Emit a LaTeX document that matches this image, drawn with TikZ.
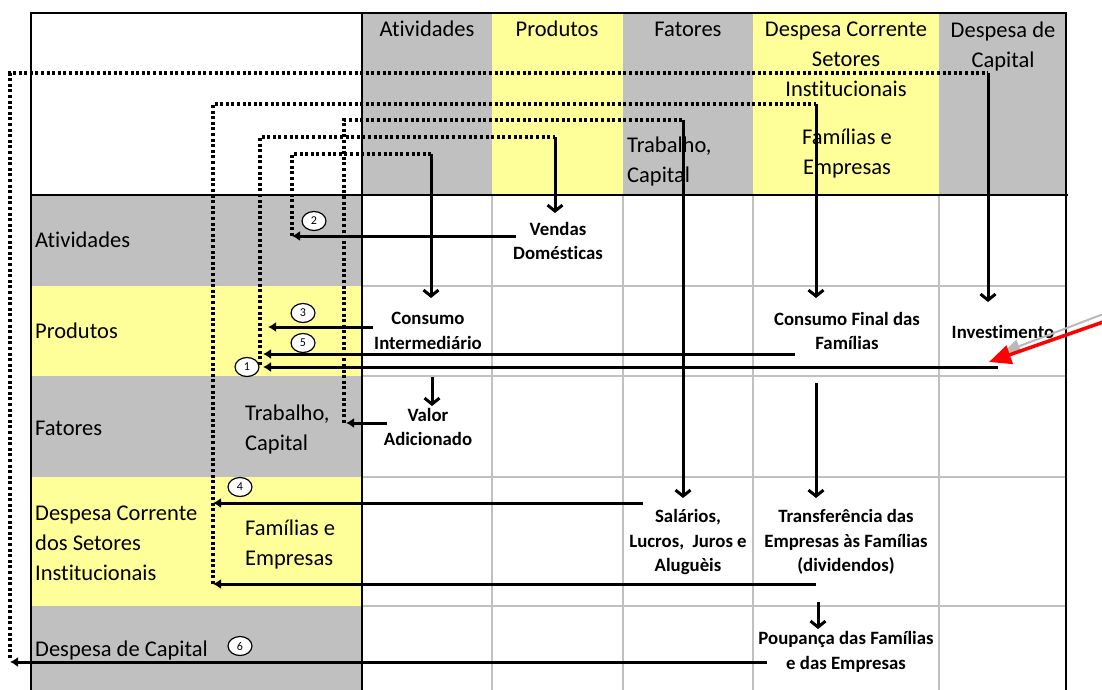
\documentclass[tikz,border=0pt]{standalone}
\usepackage{fontspec}
\setmainfont{Carlito}[Ligatures = {TeX, NoCommon}]
\usetikzlibrary{arrows.meta, shapes.geometric}

\definecolor{cinza}{HTML}{C0C0C0}
\definecolor{amarelo}{HTML}{FFFF99}
\definecolor{vermelho}{HTML}{FF0000}

\tikzset{
	rotulo/.style = {font = \fontsize{22.5}{30}\selectfont, inner sep = 0pt},
	valor/.style = {font = \fontsize{18.8}{24.5}\selectfont\bfseries, align = center, inner sep = 0pt},
	numero/.style = {draw, ellipse, fill = white, line width = 1.2pt, minimum width = 24pt, minimum height = 19pt, inner sep = 0pt, font = \fontsize{12}{12}\selectfont},
	fluxo/.style = {line width = 3pt, -{Latex[length = 8pt, width = 10pt]}},
	desce/.style = {line width = 3pt, -{Straight Barb[length = 6pt, width = 15pt]}},
	ligacao/.style = {line width = 3.2pt, dash pattern = on 3pt off 2.6pt},
	grade/.style = {cinza, line width = 2pt},
	borda/.style = {black, line width = 2.4pt}
}

\begin{document}
\begin{tikzpicture}[x = 1pt, y = -1pt]
		\useasboundingbox (0, 0) rectangle (1102, 690);
		
		\foreach \xa/\xb/\cor in {362/492/cinza, 492/623/amarelo, 623/753/cinza, 753/939/amarelo, 939/1066/cinza}
		\fill[\cor] (\xa, 13) rectangle (\xb, 195);
		\foreach \ya/\yb/\cor in {195/286/cinza, 286/376/amarelo, 376/477/cinza, 477/606/amarelo, 606/690/cinza}
		\fill[\cor] (31, \ya) rectangle (362, \yb);
		
		\foreach \x in {492, 623, 753, 939}
		\draw[grade] (\x, 195) -- (\x, 690);
		\foreach \y in {286, 376, 477, 606}
		\draw[grade] (362, \y) -- (1066, \y);
		
		\draw[borda] (31, 690) -- (31, 13) -- (1066, 13) -- (1066, 690);
		\draw[borda] (362, 13) -- (362, 690);
		\draw[borda] (31, 195) -- (1068, 195);
		
		\node[rotulo] (h-ativ) at (427, 29) {Atividades};
		\node[rotulo] (h-prod) at (557, 29) {Produtos};
		\node[rotulo] (h-fat) at (688, 29) {Fatores};
		\node[rotulo, align = center] (h-dc) at (846, 59) {Despesa Corrente\\Setores\\Institucionais};
		\node[rotulo, align = center] (h-dk) at (1003, 47) {Despesa de\\Capital};
		\node[rotulo, align = left, anchor = west] (h-tc) at (627, 162) {Trabalho,\\Capital};
		\node[rotulo, align = center] (h-fe) at (847, 154) {Famílias e\\Empresas};
		
		\node[rotulo, anchor = west] (l-ativ) at (35, 240) {Atividades};
		\node[rotulo, anchor = west] (l-prod) at (35, 331) {Produtos};
		\node[rotulo, anchor = west] (l-fat) at (35, 428) {Fatores};
		\node[rotulo, anchor = west, align = left] (l-dc) at (35, 543) {Despesa Corrente\\dos Setores\\Institucionais};
		\node[rotulo, anchor = west] (l-dk) at (35, 650) {Despesa de Capital};
		\node[rotulo, anchor = west, align = left] (l-tc) at (245, 429) {Trabalho,\\Capital};
		\node[rotulo, anchor = west, align = left] (l-fe) at (245, 544) {Famílias e\\Empresas};
		
		\node[valor] (vd) at (558, 241) {Vendas\\Domésticas};
		\node[valor] (ci) at (428, 331) {Consumo\\Intermediário};
		\node[valor] (cf) at (847, 331) {Consumo Final das\\Famílias};
		\node[valor] (inv) at (1003, 332) {Investimento};
		\node[valor] (va) at (428, 427) {Valor\\Adicionado};
		\node[valor] (sal) at (688, 542) {Salários,\\Lucros,~~Juros e\\Aluguèis};
		\node[valor] (tr) at (846, 542) {Transferência das\\Empresas às Famílias\\(dividendos)};
		\node[valor] (pp) at (846, 652) {Poupança das Famílias\\e das Empresas};
		
		\foreach \nome/\xe/\yb/\yt/\xc/\yp in {k/10/658/73/988/302, f/213/584/104/816/298, t/344/423/120/683/498, p/260/365/137/555/213, a/292/236/154/431/298}
		{
			\coordinate (\nome-base) at (\xe, \yb);
			\coordinate (\nome-canto) at (\xe, \yt);
			\coordinate (\nome-topo) at (\xc, \yt);
			\coordinate (\nome-ponta) at (\xc, \yp);
			\draw[ligacao] (\nome-base) -- (\nome-canto) -- (\nome-topo);
			\draw[desce] (\nome-topo) -- (\nome-ponta);
		}
		
		\foreach \nome/\xa/\xb/\y in {r2/516/292/236, r3/373/268/327, r5/795/263/354, r1/998/263/367, rv/387/346/423, r4/643/213/503, rd/816/213/584, r6/767/10/662}
		{
			\coordinate (\nome-ini) at (\xa, \y);
			\coordinate (\nome-fim) at (\xb, \y);
			\draw[fluxo] (\nome-ini) -- (\nome-fim);
		}
		
		\foreach \nome/\x/\ya/\yb in {ci/432/377/406, fe/816/383/498, tr/818/602/629}
		{
			\coordinate (\nome-sai) at (\x, \ya);
			\coordinate (\nome-chega) at (\x, \yb);
			\draw[desce] (\nome-sai) -- (\nome-chega);
		}
		
		\node[numero] (n1) at (247, 367) {1};
		\node[numero] (n2) at (314, 221) {2};
		\node[numero] (n3) at (303, 313) {3};
		\node[numero] (n4) at (240, 487) {4};
		\node[numero] (n5) at (303, 343) {5};
		\node[numero] (n6) at (240, 646) {6};
		
		\coordinate (sombra-ini) at (1106, 313);
		\coordinate (sombra-fim) at (1004, 352);
		\draw[line width = 2pt, gray!55, -{Triangle[length = 16pt, width = 14pt]}] (sombra-ini) -- (sombra-fim);
		\coordinate (seta-ini) at (1106, 321);
		\coordinate (seta-fim) at (989, 362);
		\draw[line width = 3.5pt, vermelho, -{Triangle[length = 22pt, width = 19pt]}] (seta-ini) -- (seta-fim);
\end{tikzpicture}
\end{document}
